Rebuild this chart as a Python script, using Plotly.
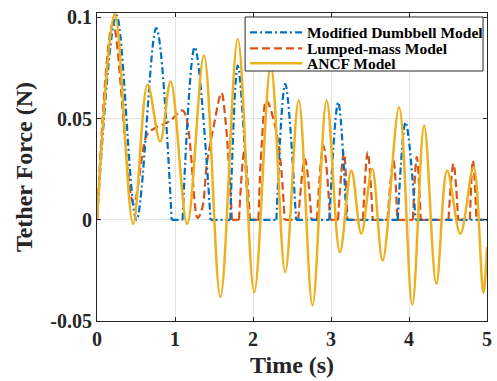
import plotly.graph_objects as go

# ---- data ---------------------------------------------------------------
# Modified Dumbbell Model: tension pulses (slack tether returns to zero)
dumbbell_t = [0, 0.25, 0.506, 0.759, 0.957, 1.097, 1.253, 1.456, 1.709, 1.805,
              1.94, 2.30, 2.413, 2.552, 2.978, 3.092, 3.198, 3.856, 3.957, 4.084, 5.0]
dumbbell_f = [0, 0.101, 0, 0.0947, 0, 0, 0.0853, 0, 0, 0.0762,
              0, 0, 0.0672, 0, 0, 0.0581, 0, 0, 0.0482, 0, 0]

# Lumped-mass Model
lumped_t = [0, 0.205, 0.47, 0.64, 0.73, 0.94, 1.1, 1.29, 1.35, 1.41, 1.50, 1.595,
            1.65, 1.73, 1.82, 1.89, 1.96, 2.07, 2.11, 2.172, 2.28, 2.35, 2.405,
            2.58, 2.666, 2.75, 2.82, 2.903, 2.99, 3.09, 3.165, 3.21, 3.41, 3.47,
            3.535, 3.725, 3.80, 3.85, 4.05, 4.10, 4.15, 4.506, 4.57, 4.63, 4.78,
            4.82, 4.865, 5.0]
lumped_f = [0, 0.097, 0.008, 0.042, 0.045, 0.049, 0.054, 0.001, 0.006, 0.028, 0.047, 0.0627,
            0.048, 0, 0, 0.034, 0, 0, 0.036, 0.059, 0.047, 0.03, 0,
            0, 0.030, 0, 0, 0.0366, 0, 0, 0.0333, 0, 0, 0.0334,
            0, 0, 0.0293, 0, 0, 0.031, 0, 0, 0.0277, 0, 0,
            0.0293, 0, 0]

# ANCF Model: extrema of the continuous oscillation
ancf_t = [0, 0.228, 0.463, 0.649, 0.81, 0.944, 1.156, 1.371, 1.582, 1.805, 2.016,
          2.228, 2.413, 2.586, 2.763, 2.944, 3.114, 3.261, 3.388, 3.527, 3.662,
          3.873, 4.042, 4.194, 4.35, 4.489, 4.658, 4.827, 4.953, 5.0]
ancf_f = [0, 0.1018, -0.002, 0.0667, 0.0387, 0.0683, -0.002, 0.0812, -0.0382, 0.0894, -0.0358,
          0.0762, -0.0259, 0.0589, -0.0423, 0.0589, -0.016, 0.0244, -0.0069, 0.0252, -0.0201,
          0.0556, -0.042, 0.0466, -0.0316, 0.0244, -0.0069, 0.026, -0.0361, -0.0135]

x_ticks = [0, 1, 2, 3, 4, 5]
y_ticks = [-0.05, 0, 0.05, 0.1]
y_tick_text = ["-0.05", "0", "0.05", "0.1"]

series_names = ["Modified Dumbbell Model", "Lumped-mass Model", "ANCF Model"]
series_colors = ["#0072BD", "#D95319", "#EDB120"]
series_dashes = ["7px,3px,2px,3px", "8px,4px", "solid"]
series_widths = [2.2, 2.2, 2.5]


def split_flat(t, f):
    """Smooth each pulse separately; stretches lying on zero stay straight."""
    segs, cur = [], [(t[0], f[0])]
    for i in range(1, len(t)):
        if f[i - 1] == 0 and f[i] == 0:
            if len(cur) > 1:
                segs.append(cur)
            segs.append([(t[i - 1], 0), (t[i], 0)])
            cur = [(t[i], f[i])]
        else:
            cur.append((t[i], f[i]))
    if len(cur) > 1:
        segs.append(cur)
    xs, ys = [], []
    for s in segs:
        xs += [p[0] for p in s] + [None]
        ys += [p[1] for p in s] + [None]
    return xs[:-1], ys[:-1]


FONT = "Liberation Serif, Times New Roman, serif"
INK = "#262626"
W, H = 497, 381
M = dict(l=97, r=5, t=13, b=60)

fig = go.Figure()

lx, ly = split_flat(lumped_t, lumped_f)
fig.add_trace(go.Scatter(
    x=lx, y=ly, mode="lines", name=series_names[1], connectgaps=False,
    line=dict(color=series_colors[1], width=series_widths[1], dash=series_dashes[1],
              shape="spline", smoothing=1.0),
))

dx, dy = split_flat(dumbbell_t, dumbbell_f)
fig.add_trace(go.Scatter(
    x=dx, y=dy, mode="lines", name=series_names[0], connectgaps=False,
    line=dict(color=series_colors[0], width=series_widths[0], dash=series_dashes[0],
              shape="spline", smoothing=1.0),
))

fig.add_trace(go.Scatter(
    x=ancf_t, y=ancf_f, mode="lines", name=series_names[2],
    line=dict(color=series_colors[2], width=series_widths[2], shape="spline", smoothing=1.0),
))

axis_common = dict(
    showline=True, linecolor=INK, linewidth=1, mirror="allticks",
    ticks="inside", ticklen=4, tickcolor=INK, tickwidth=1,
    showgrid=True, gridcolor="#e3e3e3", gridwidth=1, zeroline=False,
    tickfont=dict(family=FONT, size=20, color=INK, weight="bold"),
)

fig.update_xaxes(
    range=[0, 5], tickvals=x_ticks,
    title=dict(text="Time (s)", font=dict(family=FONT, size=24, color=INK, weight="bold"),
               standoff=7),
    **axis_common,
)
fig.update_yaxes(
    range=[-0.05, 0.1022], tickvals=y_ticks, ticktext=y_tick_text,
    title=dict(text="Tether Force (N)", font=dict(family=FONT, size=24, color=INK, weight="bold"),
               standoff=10),
    **axis_common,
)

# ---- boxed legend (MATLAB style, long line samples, tight rows) ----------
plot_w = W - M["l"] - M["r"]
plot_h = H - M["t"] - M["b"]


def px_to_paper(px, py):
    return (px - M["l"]) / plot_w, (H - M["b"] - py) / plot_h


box_x0, box_y1 = px_to_paper(247, 17)
box_x1, box_y0 = px_to_paper(488, 71)
fig.add_shape(type="rect", xref="paper", yref="paper", layer="above",
              x0=box_x0, x1=box_x1, y0=box_y0, y1=box_y1,
              fillcolor="white", line=dict(color=INK, width=1))

row_py = [32.3, 48.3, 63.3]
for name, color, dash, lw, py in zip(series_names, series_colors, series_dashes,
                                     series_widths, row_py):
    sx0, sy = px_to_paper(252, py)
    sx1, _ = px_to_paper(305, py)
    fig.add_shape(type="line", xref="paper", yref="paper", layer="above",
                  x0=sx0, x1=sx1, y0=sy, y1=sy,
                  line=dict(color=color, width=lw, dash=dash))
    tx, _ = px_to_paper(309, py)
    fig.add_annotation(xref="paper", yref="paper", x=tx, y=sy,
                       xanchor="left", yanchor="middle", showarrow=False,
                       text=name, borderpad=0,
                       font=dict(family=FONT, size=15.5, color="black", weight="bold"))

fig.update_layout(
    width=W, height=H, margin=M,
    plot_bgcolor="white", paper_bgcolor="white",
    showlegend=False,
)

fig.write_html("out.html")
